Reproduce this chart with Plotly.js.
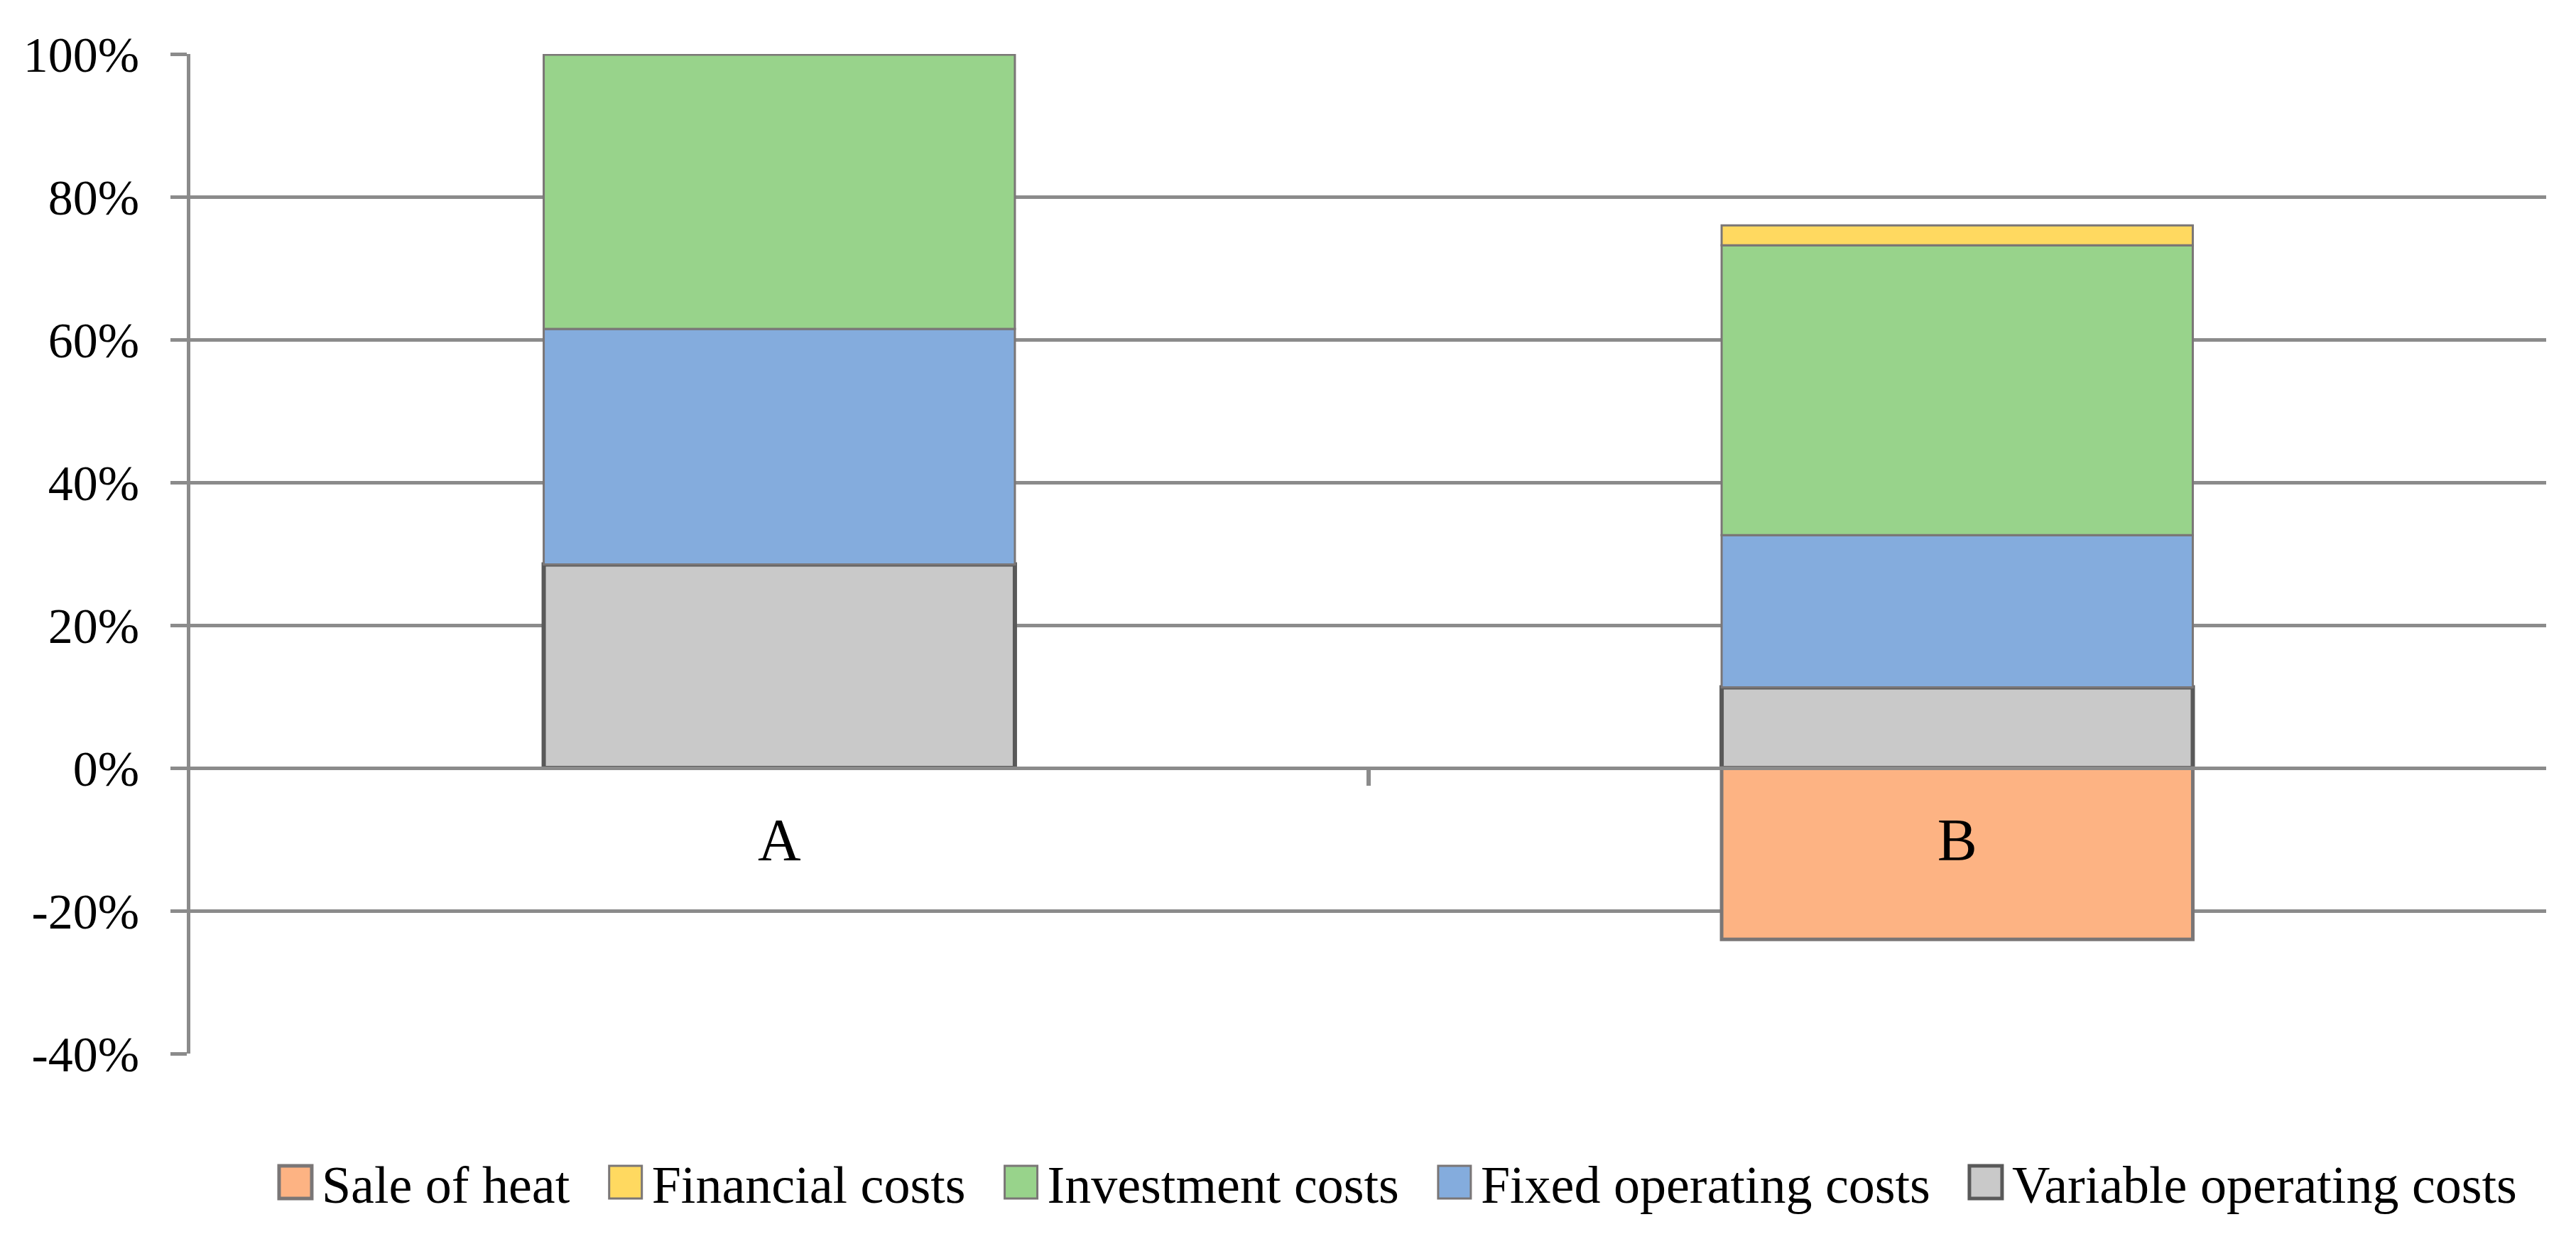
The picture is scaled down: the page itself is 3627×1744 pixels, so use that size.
<!DOCTYPE html>
<html>
<head>
<meta charset="utf-8">
<script src="https://cdn.plot.ly/plotly-3.0.1.min.js"></script>
<style>
  html, body { margin: 0; padding: 0; background: #ffffff; }
  #chart { width: 3627px; height: 1744px; }
</style>
</head>
<body>
<div id="chart"></div>
<script>
// ---- data ----
const categories = ['A', 'B'];
const variableOperating = [28.5, 11.3];
const fixedOperating = [33.0, 21.3];
const investmentCosts = [38.5, 40.6];
const financialCosts = [0, 2.8];
const saleOfHeat = [0, -24.0];
const yTickValues = [-40, -20, 0, 20, 40, 60, 80, 100];
const yTickLabels = ['-40%', '-20%', '0%', '20%', '40%', '60%', '80%', '100%'];
const categoryDividers = [0.5];

const grid = '#8b8b8b';
const edge = '#7a7676';

function bar(name, values, fill, lineColor, lineWidth) {
  return {
    type: 'bar',
    name: name,
    x: categories,
    y: values,
    marker: { color: fill, line: { color: lineColor, width: lineWidth } },
    hoverinfo: 'name+y'
  };
}

const traces = [
  bar('Variable operating costs', variableOperating, '#c9c9c9', '#595959', 6),
  bar('Fixed operating costs', fixedOperating, '#84acdd', edge, 3),
  bar('Investment costs', investmentCosts, '#98d38b', edge, 3),
  bar('Financial costs', financialCosts, '#ffd960', edge, 3),
  bar('Sale of heat', saleOfHeat, '#fdb383', edge, 5),
  // invisible helper so the divider-tick axis is drawn
  { type: 'scatter', x: [], y: [], xaxis: 'x2', showlegend: false, hoverinfo: 'skip' }
];

const layout = {
  width: 3627,
  height: 1744,
  margin: { l: 268, r: 42, t: 76, b: 261 },
  paper_bgcolor: '#ffffff',
  plot_bgcolor: '#ffffff',
  barmode: 'relative',
  bargap: 0.6,
  showlegend: true,
  font: { family: '"Liberation Serif", "Times New Roman", serif', color: '#000000' },
  xaxis: {
    type: 'category',
    anchor: 'free',
    position: 40 / 140,
    range: [-0.5, 1.5],
    showgrid: false,
    zeroline: false,
    showline: true,
    linecolor: grid,
    linewidth: 5,
    ticks: '',
    ticklabelstandoff: 26,
    tickfont: { size: 84, family: '"Liberation Serif", serif', color: '#000000' }
  },
  xaxis2: {
    overlaying: 'x',
    anchor: 'free',
    position: 40 / 140,
    side: 'bottom',
    range: [-0.5, 1.5],
    tickmode: 'array',
    tickvals: categoryDividers,
    showticklabels: false,
    showgrid: false,
    zeroline: false,
    showline: false,
    ticks: 'outside',
    ticklen: 24,
    tickwidth: 6,
    tickcolor: grid
  },
  yaxis: {
    range: [-40, 100],
    tickmode: 'array',
    tickvals: yTickValues,
    ticktext: yTickLabels,
    showgrid: true,
    gridcolor: grid,
    gridwidth: 5,
    zeroline: false,
    showline: true,
    linecolor: grid,
    linewidth: 5,
    ticks: 'outside',
    ticklen: 23,
    tickwidth: 5,
    tickcolor: grid,
    ticklabelstandoff: 30,
    tickfont: { size: 70, family: '"Liberation Serif", serif', color: '#000000' }
  },
  legend: {
    orientation: 'h',
    traceorder: 'reversed',
    x: 0.0226,
    xanchor: 'left',
    y: -0.129,
    yanchor: 'middle',
    font: { size: 74, family: '"Liberation Serif", serif', color: '#000000' },
    itemwidth: 100
  }
};

function enlargeLegendSymbols(gd) {
  const items = gd.querySelectorAll('.legend .traces');
  items.forEach(function (item) {
    const text = item.querySelector('text.legendtext');
    const path = item.querySelector('.legendpoints path');
    if (!text || !path) return;
    const tx = parseFloat(text.getAttribute('x')) || 0;
    const right = tx - 14;
    const left = right - 46;
    path.setAttribute('transform', '');
    path.setAttribute('d', 'M' + right + ',23H' + left + 'V-23H' + right + 'Z');
  });
}

Plotly.newPlot('chart', traces, layout, { staticPlot: true }).then(function (gd) {
  enlargeLegendSymbols(gd);
});
</script>
</body>
</html>
